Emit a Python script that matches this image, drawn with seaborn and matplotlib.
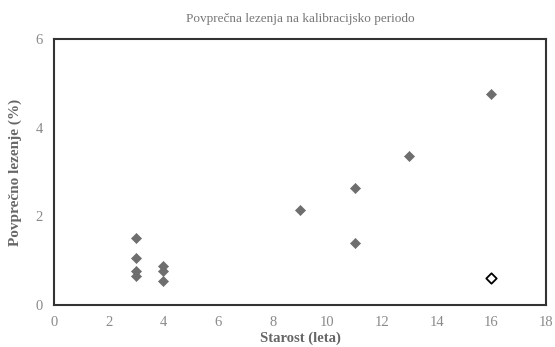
import matplotlib
matplotlib.use("Agg")
import matplotlib.pyplot as plt
import seaborn as sns
import pandas as pd

age_filled = [3, 3, 3, 3, 4, 4, 4, 9, 11, 11, 13, 16]
lodging_filled = [1.51, 1.05, 0.76, 0.65, 0.87, 0.76, 0.55, 2.14, 2.65, 1.39, 3.36, 4.76]
age_open = [16]
lodging_open = [0.61]

title = "Povprečna lezenja na kalibracijsko periodo"
xlabel = "Starost (leta)"
ylabel = "Povprečno lezenje (%)"

sns.set_style("white")
plt.rcParams['font.family'] = ['Liberation Serif', 'DejaVu Serif']

fig = plt.figure(figsize=(5.55, 3.47), dpi=100)
ax = fig.add_axes([0.0973, 0.121, 0.8865, 0.7666])

df1 = pd.DataFrame({"x": age_filled, "y": lodging_filled})
df2 = pd.DataFrame({"x": age_open, "y": lodging_open})
sns.scatterplot(data=df1, x="x", y="y", ax=ax, marker="D", s=26,
                color="#6e6e6e", edgecolor="#6e6e6e", linewidth=0.5)
sns.scatterplot(data=df2, x="x", y="y", ax=ax, marker="D", s=28,
                facecolor="white", edgecolor="black", linewidth=1.3)

ax.set_xlim(0, 18)
ax.set_ylim(0, 6)
ax.set_xticks(range(0, 19, 2))
ax.set_yticks(range(0, 7, 2))
ax.tick_params(direction="in", length=4, width=1, colors="#333333",
               labelcolor="#8a8a8a", labelsize=10.5)
ax.tick_params(axis="x", pad=8)
ax.tick_params(axis="y", pad=8)
for sp in ax.spines.values():
    sp.set_color("#333333")
    sp.set_linewidth(1.5)

ax.set_xlabel(xlabel, fontsize=10.5, fontweight="bold", color="#666666", labelpad=2)
ax.set_ylabel(ylabel, fontsize=11, fontweight="bold", color="#666666", labelpad=10)
ax.set_title(title, fontsize=9.5, color="#777777", pad=12)

fig.savefig("out.png", dpi=100)
